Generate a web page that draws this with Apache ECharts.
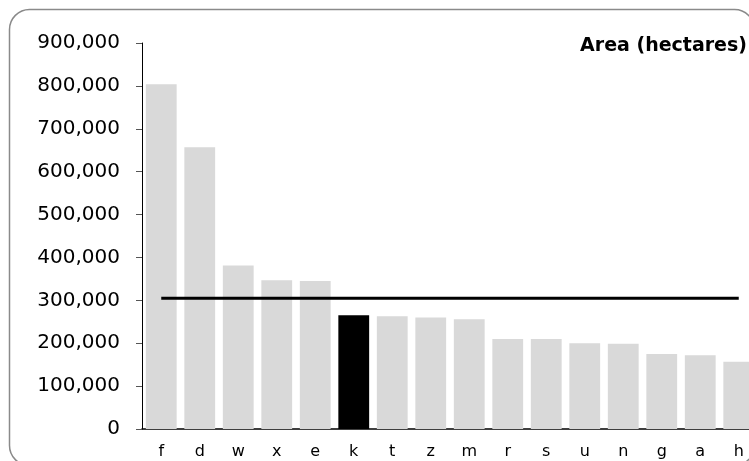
<!DOCTYPE html>
<html>
<head>
<meta charset="utf-8">
<script src="https://cdn.jsdelivr.net/npm/echarts@6/dist/echarts.min.js"></script>
<style>
  html, body { margin: 0; padding: 0; background: #fff; }
  #chart { width: 749px; height: 461px; }
</style>
</head>
<body>
<div id="chart"></div>
<script>
// data
const categories = ['f', 'd', 'w', 'x', 'e', 'k', 't', 'z', 'm', 'r', 's', 'u', 'n', 'g', 'a', 'h']
const areaValues = [804000, 657000, 381000, 347000, 345000, 265000, 263000, 260000, 256000, 210000, 210000, 200000, 199000, 175000, 172000, 157000]
const averageLine = [305000, 305000, 305000, 305000, 305000, 305000, 305000, 305000, 305000, 305000, 305000, 305000, 305000, 305000, 305000, 305000]
const highlighted = 'k'
const yTicks = { min: 0, max: 900000, interval: 100000 }

const chart = echarts.init(document.getElementById('chart'))

chart.setOption({
    animation: false,
    textStyle: { fontFamily: 'DejaVu Sans' },
    title: {
        text: 'Area (hectares)',
        right: -3,
        top: 32,
        textStyle: { fontFamily: 'DejaVu Sans', fontSize: 19, fontWeight: 'bold', color: '#000' }
    },
    graphic: [{
        type: 'rect',
        left: 7,
        top: 7,
        shape: { width: 745, height: 456, r: 20 },
        style: { fill: 'none', stroke: '#8a8a8a', lineWidth: 1.5 },
        silent: true,
        z: -1
    }],
    // plot runs off the right edge in the reference
    grid: { left: 142, width: 616, top: 43, bottom: 32, outerBoundsMode: 'none' },
    xAxis: {
        type: 'category',
        data: categories,
        axisLine: { lineStyle: { color: '#000', width: 1.5 } },
        axisTick: { show: false },
        axisLabel: { color: '#000', fontSize: 16, margin: 15 }
    },
    yAxis: {
        type: 'value',
        min: yTicks.min,
        max: yTicks.max,
        interval: yTicks.interval,
        splitLine: { show: false },
        axisLine: { show: true, lineStyle: { color: '#000', width: 1 } },
        axisTick: { show: true, length: 6, lineStyle: { color: '#555' } },
        axisLabel: {
            color: '#000',
            fontSize: 20,
            margin: 22,
            formatter: v => v.toLocaleString('en-US')
        }
    },
    series: [{
        type: 'bar',
        data: areaValues.map((v, i) => ({
            value: v,
            itemStyle: { color: categories[i] === highlighted ? '#000' : '#d9d9d9' }
        })),
        barCategoryGap: '20%'
    }, {
        type: 'line',
        data: averageLine,
        symbol: 'none',
        lineStyle: { color: '#000', width: 3 },
        z: 5
    }]
})
</script>
</body>
</html>
